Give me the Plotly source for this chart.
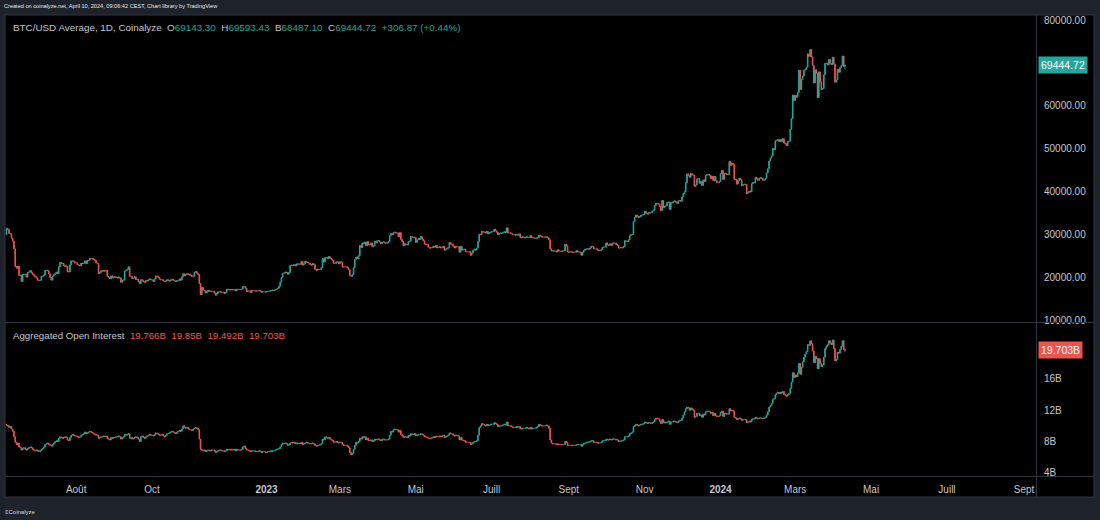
import pandas as pd
import numpy as np
import plotly.graph_objects as go

# ---------------- data ----------------
start_date = "2022-06-06"

price_prev_close = 29900
price_close = [
    # 2022-06 (from 6th)
    31400, 31100, 30200, 30100, 29100, 28400, 26600, 22500, 22100, 22600, 20400, 20500, 19000, 20600, 20600,
    20700, 20000, 21100, 21200, 21500, 21000, 20700, 20300, 20100, 19800,
    # 2022-07
    19300, 19200, 19300, 20200, 20200, 20500, 21600, 21600, 21500, 20800, 19900, 19300, 20200, 20600, 20800,
    21200, 20800, 22400, 23400, 23200, 23200, 22700, 22500, 22600, 21300, 21200, 22900, 23800, 23800, 23600, 23300,
    # 2022-08
    23300, 22900, 22800, 22600, 23300, 23200, 23200, 23800, 23200, 23900, 23900, 24400, 24300, 24300, 24100,
    23900, 23300, 23200, 20800, 21100, 21500, 21400, 21500, 21400, 21600, 20200, 20000, 19600, 20300, 19800, 20000,
    # 2022-09
    20100, 19900, 19800, 20000, 19800, 18800, 19300, 19300, 21400, 21600, 21800, 22400, 20200, 20200, 19700,
    19800, 20100, 19400, 19500, 18900, 18500, 19400, 19300, 18900, 18800, 19200, 19100, 19400, 19600, 19400,
    # 2022-10
    19300, 19000, 19600, 20300, 20200, 19900, 19500, 19400, 19400, 19100, 19000, 19100, 19400, 19200, 19100,
    19300, 19500, 19300, 19100, 19000, 19200, 19200, 19600, 19300, 20100, 20800, 20300, 20600, 20800, 20600, 20500,
    # 2022-11
    20500, 20200, 20200, 21100, 21300, 20900, 20600, 18500, 15900, 17600, 17000, 16800, 16300, 16600, 16900,
    16700, 16700, 16700, 16700, 16300, 15800, 16200, 16600, 16600, 16500, 16500, 16500, 16200, 16400, 17200,
    # 2022-12
    17000, 17100, 17000, 17100, 17000, 17100, 16800, 17200, 17100, 17100, 17100, 17200, 17800, 17800, 17400,
    16600, 16800, 16800, 16400, 16900, 16800, 16800, 16800, 16800, 16800, 16900, 16700, 16500, 16600, 16600, 16500,
    # 2023-01
    16600, 16700, 16700, 16900, 16800, 17000, 16900, 17100, 17200, 17400, 17900, 18800, 19900, 20900, 20900,
    21200, 21100, 20700, 21100, 22700, 22800, 22700, 22900, 22600, 23100, 23000, 23100, 23000, 23700, 22800, 23100,
    # 2023-02
    23700, 23500, 23400, 23300, 22900, 22800, 23200, 22900, 21800, 21600, 21900, 21800, 21800, 22200, 24300,
    23500, 24600, 24600, 24300, 24800, 24400, 24200, 23900, 23200, 23200, 23600, 23500, 23100,
    # 2023-03
    23600, 23500, 22400, 22400, 22400, 22400, 22200, 21700, 20400, 20200, 20600, 22200, 24100, 24700, 24300,
    25000, 27400, 26900, 28000, 27800, 28200, 27300, 28300, 27500, 27500, 28000, 27100, 27300, 28400, 28000, 28500,
    # 2023-04
    28500, 28200, 27800, 28200, 28200, 28000, 27900, 28000, 28300, 29700, 30200, 29900, 30400, 30500, 30300,
    30300, 29400, 30400, 28800, 28300, 27300, 27800, 27600, 27500, 28300, 28400, 29500, 29300, 29200, 29300,
    # 2023-05
    28100, 28700, 29000, 28800, 29500, 28900, 28500, 27700, 27600, 27600, 27000, 26800, 26800, 26900, 27200,
    27000, 27400, 26800, 26900, 27100, 26800, 26900, 27200, 26300, 26500, 26700, 26900, 28100, 27700, 27700, 27200,
    # 2023-06
    26800, 27200, 27100, 27100, 25800, 27200, 26300, 26500, 26500, 25900, 25900, 25900, 25900, 25100, 25600,
    26300, 26500, 26300, 26800, 28300, 30000, 29900, 30700, 30500, 30500, 30300, 30700, 30100, 30400, 30500,
    # 2023-07
    30600, 30600, 31200, 30800, 30500, 29900, 30300, 30300, 30200, 30400, 30600, 30400, 31500, 30300, 30300,
    30300, 30100, 29900, 29900, 29800, 29900, 29800, 30100, 29200, 29200, 29400, 29200, 29300, 29400, 29300, 29200,
    # 2023-08
    29700, 29200, 29200, 29100, 29100, 29100, 29200, 29800, 29600, 29400, 29400, 29400, 29300, 29400, 29200,
    28700, 26600, 26100, 26200, 26100, 26100, 25900, 26400, 26100, 26100, 26000, 26100, 26100, 27700, 27300, 25900,
    # 2023-09
    25800, 25900, 25900, 25800, 25800, 25800, 26200, 25900, 25900, 25800, 25100, 25800, 26200, 26500, 26600,
    26600, 26500, 26800, 27200, 27100, 26600, 26600, 26600, 26300, 26300, 26200, 26400, 27000, 27000, 27000,
    # 2023-10
    28000, 27500, 27400, 27800, 27400, 27900, 27950, 27950, 27600, 27400, 26800, 26800, 26900, 26850, 27150,
    28500, 28400, 28300, 28700, 29700, 29900, 30000, 33000, 33900, 34500, 34200, 33900, 34100, 34500, 34500, 34600,
    # 2023-11
    35400, 34900, 34700, 35100, 35000, 35000, 35400, 35600, 36700, 37300, 37100, 37100, 36500, 35500, 37900,
    36200, 36600, 36600, 37400, 37500, 35800, 37400, 37300, 37700, 37800, 37500, 37200, 37800, 37900, 37700,
    # 2023-12
    38700, 39500, 39900, 42000, 44100, 43800, 43300, 44200, 43800, 43800, 41200, 41500, 42900, 43000, 41900,
    42300, 41400, 42700, 42300, 43700, 43900, 44000, 43700, 43000, 43600, 42500, 43500, 42600, 42100, 42100, 42300,
    # 2024-01
    44200, 44900, 42800, 44200, 44200, 43900, 43900, 47000, 46100, 46600, 46300, 42800, 42800, 41700, 42500,
    43100, 42700, 41300, 41600, 41700, 41600, 39500, 39800, 40100, 39900, 41800, 42100, 42000, 43300, 42900, 42600,
    # 2024-02
    43100, 43200, 43000, 42600, 42700, 43100, 44300, 45300, 47100, 47800, 48300, 50000, 49700, 51800, 51900,
    52100, 51600, 52100, 51700, 52300, 51300, 51100, 50700, 51600, 51700, 54500, 57000, 62500, 61200,
    # 2024-03
    62400, 62000, 63100, 68300, 63800, 66100, 66900, 68300, 68500, 69000, 72100, 71500, 73100, 71400, 69400,
    65300, 68400, 67600, 61900, 67900, 65500, 63800, 64000, 67200, 69900, 69900, 69500, 70800, 69900, 69600, 71300,
    # 2024-04 (to 10th)
    69700, 65500, 66000, 68500, 67800, 68900, 69400, 71600, 69143.30, 69444.72,
]
price_last_high = 69593.43
price_last_low = 68487.10

oi_prev_close = 10.2
oi_close = [
    # 2022-06 (from 6th)
    10.1, 10.0, 9.8, 9.9, 9.6, 9.3, 8.6, 7.9, 7.6, 7.8, 7.3, 7.2, 6.9, 7.1, 7.2, 7.0, 6.9, 7.1, 7.2, 7.3,
    7.2, 7.0, 6.9, 6.8, 6.9,
    # 2022-07
    6.8, 6.7, 6.8, 7.0, 7.1, 7.3, 7.6, 7.7, 7.8, 7.6, 7.5, 7.4, 7.6, 7.8, 8.0, 8.1, 8.0, 8.4, 8.6, 8.5,
    8.4, 8.5, 8.6, 8.5, 8.2, 8.1, 8.5, 8.8, 8.9, 8.8, 8.7,
    # 2022-08
    8.7, 8.6, 8.5, 8.6, 8.8, 8.9, 9.0, 9.2, 9.0, 9.1, 9.2, 9.3, 9.2, 9.1, 9.0, 8.9, 8.8, 8.8, 8.4, 8.5,
    8.6, 8.6, 8.7, 8.6, 8.7, 8.4, 8.3, 8.2, 8.5, 8.4, 8.5,
    # 2022-09
    8.5, 8.6, 8.6, 8.7, 8.6, 8.3, 8.5, 8.6, 8.9, 8.8, 8.9, 9.0, 8.4, 8.5, 8.3, 8.4, 8.5, 8.6, 8.5, 8.3,
    8.0, 8.6, 8.7, 8.5, 8.4, 8.6, 8.7, 8.8, 8.9, 8.8,
    # 2022-10
    8.8, 8.7, 8.9, 9.1, 9.0, 8.9, 8.8, 8.8, 8.9, 8.7, 8.6, 8.8, 9.0, 9.0, 9.1, 9.2, 9.3, 9.2, 9.1, 9.0,
    9.2, 9.3, 9.4, 9.3, 9.6, 10.0, 9.8, 9.7, 9.8, 9.6, 9.5,
    # 2022-11
    9.5, 9.4, 9.6, 9.7, 9.8, 9.7, 9.5, 8.3, 7.0, 6.9, 6.8, 6.9, 6.7, 6.8, 6.9, 6.8, 6.8, 6.9, 6.9, 6.8,
    6.6, 6.7, 6.8, 6.9, 6.9, 6.8, 6.8, 6.7, 6.8, 7.0,
    # 2022-12
    6.9, 7.0, 6.9, 7.0, 6.9, 7.0, 6.8, 7.0, 6.9, 6.9, 6.9, 7.0, 7.3, 7.4, 7.1, 6.9, 6.9, 6.8, 6.7, 6.8,
    6.8, 6.8, 6.7, 6.7, 6.7, 6.8, 6.7, 6.6, 6.7, 6.7, 6.6,
    # 2023-01
    6.6, 6.7, 6.7, 6.8, 6.7, 6.8, 6.8, 6.9, 7.0, 7.0, 7.1, 7.3, 7.6, 7.8, 7.7, 7.8, 7.7, 7.5, 7.6, 7.8,
    7.9, 7.8, 7.9, 7.7, 7.8, 7.7, 7.8, 7.7, 7.9, 7.6, 7.7,
    # 2023-02
    7.8, 7.9, 7.8, 7.8, 7.7, 7.7, 7.8, 7.7, 7.5, 7.4, 7.5, 7.5, 7.6, 7.7, 8.3, 8.2, 8.6, 8.5, 8.4, 8.5,
    8.3, 8.2, 8.1, 7.9, 7.9, 8.0, 7.9, 7.8,
    # 2023-03
    7.9, 7.9, 7.6, 7.5, 7.5, 7.5, 7.4, 7.2, 6.6, 6.3, 6.5, 7.0, 7.5, 7.9, 7.8, 8.0, 8.4, 8.3, 8.6, 8.5,
    8.6, 8.2, 8.4, 8.1, 8.1, 8.2, 8.0, 8.1, 8.3, 8.2, 8.3,
    # 2023-04
    8.3, 8.2, 8.1, 8.3, 8.3, 8.2, 8.2, 8.2, 8.3, 8.8, 9.3, 9.2, 9.5, 9.6, 9.5, 9.5, 9.2, 9.4, 8.9, 8.7,
    8.5, 8.6, 8.6, 8.5, 8.8, 8.7, 9.0, 8.9, 8.9, 9.0,
    # 2023-05
    8.7, 8.8, 8.9, 8.9, 9.0, 8.9, 8.8, 8.6, 8.6, 8.5, 8.4, 8.4, 8.4, 8.5, 8.6, 8.5, 8.7, 8.6, 8.6, 8.7,
    8.6, 8.7, 8.8, 8.5, 8.6, 8.7, 8.8, 9.1, 9.0, 9.0, 8.8,
    # 2023-06
    8.7, 8.8, 8.8, 8.7, 8.2, 8.5, 8.2, 8.1, 8.1, 7.9, 7.9, 7.9, 7.9, 7.6, 7.7, 7.9, 8.0, 8.0, 8.1, 8.8,
    9.8, 10.0, 10.3, 10.2, 10.1, 10.0, 10.2, 10.0, 10.1, 10.2,
    # 2023-07
    10.2, 10.2, 10.4, 10.3, 10.2, 9.9, 10.0, 10.0, 10.0, 10.1, 10.2, 10.1, 10.5, 10.0, 10.0, 10.0, 9.9,
    9.8, 9.8, 9.8, 9.9, 9.8, 9.9, 9.6, 9.6, 9.7, 9.7, 9.7, 9.8, 9.7, 9.6,
    # 2023-08
    9.8, 9.6, 9.7, 9.7, 9.7, 9.8, 9.9, 10.2, 10.1, 10.0, 10.0, 10.0, 10.0, 10.1, 10.0, 9.7, 8.2, 7.8,
    7.7, 7.7, 7.7, 7.6, 7.7, 7.6, 7.6, 7.6, 7.6, 7.6, 8.0, 7.9, 7.5,
    # 2023-09
    7.5, 7.5, 7.5, 7.5, 7.5, 7.5, 7.6, 7.6, 7.6, 7.6, 7.4, 7.6, 7.7, 7.8, 7.9, 7.9, 7.9, 8.0, 8.1, 8.1,
    7.9, 7.9, 7.9, 7.8, 7.8, 7.8, 7.9, 8.1, 8.1, 8.1,
    # 2023-10
    8.3, 8.2, 8.2, 8.3, 8.2, 8.3, 8.3, 8.3, 8.2, 8.2, 8.0, 8.0, 8.1, 8.1, 8.2, 8.6, 8.6, 8.6, 8.7, 9.0,
    9.1, 9.2, 9.9, 10.0, 10.2, 10.1, 10.0, 10.1, 10.2, 10.2, 10.3,
    # 2023-11
    10.5, 10.4, 10.3, 10.4, 10.4, 10.3, 10.4, 10.5, 10.8, 11.0, 10.9, 10.9, 10.6, 10.3, 10.8, 10.4, 10.5,
    10.4, 10.5, 10.6, 10.2, 10.5, 10.5, 10.6, 10.6, 10.5, 10.4, 10.6, 10.7, 10.7,
    # 2023-12
    11.0, 11.4, 11.8, 12.2, 12.4, 12.3, 12.0, 12.3, 12.1, 12.0, 11.1, 11.2, 11.6, 11.6, 11.3, 11.4, 11.1,
    11.5, 11.4, 11.8, 11.9, 11.9, 11.8, 11.6, 11.7, 11.3, 11.6, 11.3, 11.2, 11.2, 11.3,
    # 2024-01
    11.7, 11.9, 11.2, 11.6, 11.6, 11.5, 11.5, 12.2, 11.9, 12.0, 11.9, 11.1, 11.0, 10.8, 10.9, 11.0, 10.9,
    10.7, 10.8, 10.8, 10.8, 10.4, 10.5, 10.6, 10.5, 10.8, 10.9, 10.9, 11.1, 11.0, 10.9,
    # 2024-02
    11.0, 11.0, 11.0, 10.9, 11.0, 11.1, 11.4, 11.8, 12.4, 12.6, 12.9, 13.4, 13.5, 14.0, 14.2, 14.3, 14.1,
    14.3, 14.2, 14.4, 14.0, 13.9, 13.8, 14.0, 14.1, 14.8, 15.6, 16.8, 16.2,
    # 2024-03
    16.5, 16.3, 16.8, 18.0, 16.6, 17.5, 18.2, 18.8, 19.2, 19.5, 20.4, 20.3, 20.9, 20.5, 19.6, 18.1, 18.9,
    18.6, 17.3, 18.6, 18.0, 17.6, 17.8, 18.8, 19.9, 20.2, 20.4, 20.9, 20.6, 20.4, 21.0,
    # 2024-04 (to 10th)
    19.9, 18.3, 18.5, 19.4, 19.3, 19.8, 20.2, 20.9, 19.766, 19.703,
]
oi_last_high = 19.85
oi_last_low = 19.492

price_ticks = [10000, 20000, 30000, 40000, 50000, 60000, 70000, 80000]
price_tick_text = ["10000.00", "20000.00", "30000.00", "40000.00", "50000.00", "60000.00", "", "80000.00"]
oi_ticks = [4, 8, 12, 16]
oi_tick_text = ["4B", "8B", "12B", "16B"]
month_ticks = ["2022-08-01", "2022-10-01", "2023-01-01", "2023-03-01", "2023-05-01", "2023-07-01",
               "2023-09-01", "2023-11-01", "2024-01-01", "2024-03-01", "2024-05-01", "2024-07-01", "2024-09-01"]
month_labels = ["Août", "Oct", "<b>2023</b>", "Mars", "Mai", "Juill", "Sept", "Nov", "<b>2024</b>",
                "Mars", "Mai", "Juill", "Sept"]

# ---------------- build OHLC ----------------
def ohlc(prev_close, close, last_high, last_low):
    c = np.array(close, dtype=float)
    o = np.concatenate([[prev_close], c[:-1]])
    h = np.maximum(o, c)
    l = np.minimum(o, c)
    h[-1] = last_high
    l[-1] = last_low
    return o, h, l, c

po, ph, pl, pc = ohlc(price_prev_close, price_close, price_last_high, price_last_low)
oo, oh, ol, oc = ohlc(oi_prev_close, oi_close, oi_last_high, oi_last_low)
pdates = pd.date_range(start_date, periods=len(pc), freq="D")
odates = pd.date_range(start_date, periods=len(oc), freq="D")

UP = "#26a69a"
DOWN = "#ef5350"
FRAME = "#1e222b"
BORDER = "#30343e"
TXT = "#c4c7cf"
FONT = "Liberation Sans, Arial, sans-serif"

fig = go.Figure()
fig.add_trace(go.Candlestick(
    x=pdates, open=po, high=ph, low=pl, close=pc, xaxis="x", yaxis="y2",
    increasing=dict(line=dict(color=UP, width=1), fillcolor=UP),
    decreasing=dict(line=dict(color=DOWN, width=1), fillcolor=DOWN),
    whiskerwidth=0, showlegend=False, hoverinfo="skip",
))
fig.add_trace(go.Candlestick(
    x=odates, open=oo, high=oh, low=ol, close=oc, xaxis="x", yaxis="y",
    increasing=dict(line=dict(color=UP, width=1), fillcolor=UP),
    decreasing=dict(line=dict(color=DOWN, width=1), fillcolor=DOWN),
    whiskerwidth=0, showlegend=False, hoverinfo="skip",
))

# geometry (pixels)
W, H = 1100, 520
L, R, T, B = 5, 1036, 15, 477
pw, ph_ = R - L, B - T
px_per_day = 1.244
x_start = pd.Timestamp("2023-01-01") - pd.Timedelta(days=(266.5 - L) / px_per_day)
x_end = x_start + pd.Timedelta(days=pw / px_per_day)

def fx(px):
    return (px - L) / pw

def fy(py):
    return (B - py) / ph_

fig.update_layout(
    width=W, height=H,
    margin=dict(l=L, r=W - R, t=T, b=H - B, pad=0),
    paper_bgcolor=FRAME, plot_bgcolor="#000000",
    font=dict(family=FONT, size=10, color=TXT),
    showlegend=False,
    xaxis=dict(
        type="date", range=[x_start, x_end], anchor="y", domain=[0, 1],
        rangeslider=dict(visible=False), showgrid=False, zeroline=False,
        tickmode="array", tickvals=month_ticks, ticktext=month_labels,
        ticks="", ticklabelstandoff=5, tickfont=dict(size=10, color=TXT),
        showline=False, fixedrange=True,
    ),
    yaxis=dict(
        domain=[0, fy(323)], range=[3.45, 23.17], side="right", anchor="x",
        showgrid=False, zeroline=False, tickmode="array", tickvals=oi_ticks, ticktext=oi_tick_text,
        ticks="", ticklabelstandoff=7, tickfont=dict(size=10, color=TXT), showline=False,
    ),
    yaxis2=dict(
        domain=[fy(322), 1], range=[9533, 81167], side="right", anchor="x",
        showgrid=False, zeroline=False, tickmode="array", tickvals=price_ticks, ticktext=price_tick_text,
        ticks="", ticklabelstandoff=7, tickfont=dict(size=10, color=TXT), showline=False,
    ),
)

shapes = [
    dict(type="rect", xref="paper", yref="paper", x0=fx(5), x1=fx(1094), y0=fy(497), y1=fy(15),
         fillcolor="#000000", line=dict(color=BORDER, width=1), layer="below"),
    dict(type="line", xref="paper", yref="paper", x0=fx(1036.5), x1=fx(1036.5), y0=fy(497), y1=fy(15),
         line=dict(color=BORDER, width=1), layer="above"),
    dict(type="line", xref="paper", yref="paper", x0=fx(5), x1=fx(1094), y0=fy(322.5), y1=fy(322.5),
         line=dict(color=BORDER, width=1), layer="above"),
    dict(type="line", xref="paper", yref="paper", x0=fx(5), x1=fx(1094), y0=fy(476.5), y1=fy(476.5),
         line=dict(color=BORDER, width=1), layer="above"),
]
fig.update_layout(shapes=shapes)

G = "#26a69a"
Rr = "#ef5350"
sp = "&nbsp;&nbsp;"
header = (
    f"BTC/USD Average, 1D, Coinalyze{sp}"
    f"O<span style='color:{G}'>69143.30</span>{sp}"
    f"H<span style='color:{G}'>69593.43</span>{sp}"
    f"B<span style='color:{G}'>68487.10</span>{sp}"
    f"C<span style='color:{G}'>69444.72</span>{sp}"
    f"<span style='color:{G}'>+306.87 (+0.44%)</span>"
)
oi_header = (
    f"Aggregated Open Interest{sp}"
    f"<span style='color:{Rr}'>19.766B</span>{sp}"
    f"<span style='color:{Rr}'>19.85B</span>{sp}"
    f"<span style='color:{Rr}'>19.492B</span>{sp}"
    f"<span style='color:{Rr}'>19.703B</span>"
)

annotations = [
    dict(text="Created on coinalyze.net, April 10, 2024, 09:06:42 CEST, Chart library by TradingView",
         xref="paper", yref="paper", x=fx(2), y=fy(6), xanchor="left", yanchor="middle",
         showarrow=False, font=dict(size=5.6, color="#e6e8ee")),
    dict(text=header, xref="paper", yref="paper", x=fx(11), y=fy(27), xanchor="left", yanchor="middle",
         showarrow=False, font=dict(size=9.85, color=TXT)),
    dict(text=oi_header, xref="paper", yref="paper", x=fx(11), y=fy(335), xanchor="left", yanchor="middle",
         showarrow=False, font=dict(size=9.7, color=TXT)),
    dict(text=f"{price_close[-1]:.2f}", xref="paper", yref="y2", x=fx(1037.5), y=price_close[-1],
         xanchor="left", yanchor="middle", showarrow=False, bgcolor=UP, borderpad=2,
         font=dict(size=10.5, color="#ffffff")),
    dict(text=f"{oi_close[-1]:.3f}B", xref="paper", yref="y", x=fx(1037.5), y=oi_close[-1],
         xanchor="left", yanchor="middle", showarrow=False, bgcolor=DOWN, borderpad=2,
         font=dict(size=10.5, color="#ffffff")),
    dict(text="≡Coinalyze", xref="paper", yref="paper", x=fx(3), y=fy(512), xanchor="left",
         yanchor="middle", showarrow=False, font=dict(size=6, color="#d8dae0")),
]
fig.update_layout(annotations=annotations)

fig.write_html(
    "out.html",
    config={"displayModeBar": False},
    post_script="document.body.style.margin='0';document.body.style.background='#1e222b';",
)
